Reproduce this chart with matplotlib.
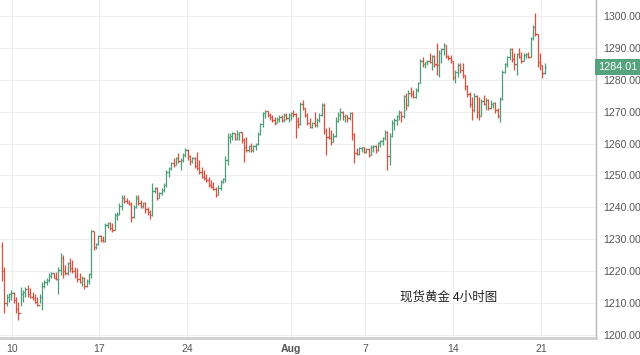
import matplotlib.pyplot as plt
import numpy as np
from matplotlib import transforms

plt.rcParams['font.family'] = ['Liberation Sans', 'Noto Sans CJK SC', 'DejaVu Sans']

# 4h bars (open = previous close)
first_open = 1228.0
highs = [1229, 1221.4, 1213, 1213.2, 1214, 1213.5, 1212, 1210.5, 1215.2, 1214,
         1215, 1215.7, 1214.6, 1213.6, 1213, 1212, 1213, 1216.7, 1217.2, 1217.8,
         1219.3, 1219.9, 1219.3, 1219.9, 1221.4, 1225.6, 1225, 1222, 1223, 1224,
         1223.5, 1221.4, 1220.9, 1219.3, 1218.5, 1218.3, 1217.5, 1219.5, 1233, 1232.5,
         1228.7, 1231.3, 1231.5, 1231, 1235, 1235.5, 1235.5, 1235, 1238.1, 1238.6,
         1241.3, 1243.9, 1243.9, 1242.8, 1242.3, 1241.8, 1240.7, 1243.9, 1243.9, 1242.3,
         1241.8, 1241.8, 1240.2, 1239.2, 1247.5, 1246.5, 1246.5, 1244.9, 1246, 1247.5,
         1251.7, 1252.7, 1254.3, 1255.4, 1255.9, 1256.9, 1255.4, 1256.9, 1258.5, 1258.2,
         1256.4, 1255.9, 1255.9, 1257.4, 1254.8, 1252.7, 1251.7, 1250.6, 1249.6, 1248.6,
         1248, 1246.5, 1247, 1248.6, 1249.1, 1256, 1263.2, 1263.2, 1263.7, 1263.4,
         1264.3, 1263.7, 1263.6, 1261.6, 1262.2, 1259.6, 1260.1, 1259.6, 1260.1, 1263.7,
         1266.4, 1270, 1270.5, 1270.3, 1269.5, 1269, 1268.4, 1268.4, 1269, 1269,
         1269.5, 1269.5, 1269.5, 1270, 1270.5, 1269.5, 1268.4, 1273.1, 1273.7, 1271.3,
         1269.5, 1267.9, 1266.9, 1270, 1267.9, 1269.5, 1272.6, 1272.6, 1264.8, 1265.3,
         1264.3, 1263.2, 1268.4, 1270, 1271, 1270.3, 1269, 1269, 1270, 1269.8,
         1263.2, 1258.5, 1259, 1259, 1259, 1258.5, 1258.5, 1259.6, 1259.6, 1259.5,
         1260.6, 1261.1, 1262.2, 1264.3, 1263.8, 1263.2, 1267.4, 1267.9, 1268.9, 1270.5,
         1270.2, 1275.2, 1275.7, 1276.8, 1277.8, 1276.8, 1277.3, 1279.4, 1286.5, 1287.2,
         1285.7, 1286.2, 1288.3, 1287.8, 1287.8, 1291.5, 1289.3, 1289.9, 1291.4, 1290.8,
         1287.8, 1287.8, 1286, 1283.1, 1285.2, 1285.2, 1285.2, 1281.5, 1278.4, 1276.3,
         1274.7, 1275.8, 1275.2, 1274.7, 1274, 1275.2, 1274.2, 1274, 1273.7, 1273.1,
         1273.1, 1271, 1274.7, 1283, 1285.2, 1287.3, 1289.9, 1289.9, 1288.3, 1288.3,
         1289.9, 1288.8, 1288.3, 1288.3, 1288.8, 1293.5, 1297.2, 1300.8, 1294.5, 1288.3,
         1284.5, 1285.2]
lows = [1217, 1206.8, 1209, 1210.4, 1211, 1210, 1206.8, 1204.7, 1209, 1210.4,
        1212, 1212, 1211.5, 1211, 1210, 1209, 1210, 1207.8, 1214.6, 1215.7,
        1216.7, 1217.8, 1217.8, 1217.2, 1213, 1218.8, 1217.8, 1218.8, 1218.8, 1219.9,
        1219.3, 1217.8, 1216.7, 1216.2, 1215.5, 1214.5, 1215, 1216, 1218, 1226.6,
        1227.1, 1228.2, 1229.3, 1229, 1229.3, 1233.4, 1232.9, 1232.4, 1233, 1236,
        1237.6, 1239.2, 1241.3, 1241.3, 1240.7, 1235.5, 1236.8, 1239.7, 1240.7, 1239.7,
        1239.7, 1238.1, 1237.6, 1236.5, 1237.2, 1244.4, 1242.3, 1242.8, 1243.9, 1244.9,
        1246.5, 1249.6, 1251.7, 1252.7, 1253.2, 1253.8, 1251.7, 1254.3, 1255.9, 1254.8,
        1253.3, 1253.8, 1252.2, 1251.7, 1250.6, 1249.1, 1248.6, 1248, 1246.5, 1246,
        1245.4, 1243.3, 1243.8, 1245.6, 1247.5, 1248, 1253.3, 1260.1, 1261.1, 1261.1,
        1261.1, 1261.1, 1260.1, 1254.3, 1257.5, 1257.5, 1257.5, 1257.5, 1258, 1259.6,
        1262.7, 1265.3, 1267.9, 1268.4, 1267.4, 1266.9, 1265.8, 1266.4, 1266.9, 1266.9,
        1266.9, 1267.4, 1266.9, 1267.4, 1268.4, 1261.6, 1265, 1265.8, 1270.5, 1268.4,
        1265.8, 1264.8, 1264.8, 1265.3, 1265.3, 1266.9, 1268.5, 1263, 1256.4, 1261.5,
        1259.6, 1260.5, 1262, 1266.9, 1267.4, 1267.4, 1266.9, 1266.9, 1267.4, 1261.1,
        1253.8, 1256.4, 1256.5, 1257.5, 1257, 1257, 1255.9, 1256.3, 1257.5, 1257,
        1257.8, 1259, 1259.6, 1261.1, 1251.7, 1253.3, 1262, 1264.3, 1265.8, 1267.4,
        1266.9, 1268, 1270.5, 1271.8, 1274.7, 1274.2, 1274.3, 1276.3, 1278.9, 1284.1,
        1283.6, 1284.6, 1285.2, 1283.1, 1284.1, 1281.5, 1281, 1285.2, 1287.8, 1286.7,
        1286.2, 1285.2, 1280, 1278.9, 1281, 1282, 1280.4, 1276.8, 1274.7, 1271.6,
        1267.4, 1270, 1267.9, 1267.4, 1268.5, 1272, 1270.5, 1270.5, 1270.8, 1271,
        1269.5, 1267.9, 1266.9, 1273.8, 1282, 1284.1, 1286.2, 1285.7, 1283.1, 1281.5,
        1286.7, 1285.2, 1285.8, 1286.7, 1286.7, 1287, 1292.5, 1293.8, 1284.1, 1283.1,
        1280.5, 1281.8]
closes = [1220, 1210, 1212, 1212.8, 1213.3, 1211, 1208, 1207, 1213, 1213.5,
          1214.5, 1213, 1212, 1211.5, 1210.5, 1209.5, 1212, 1215.5, 1216.5, 1217.2,
          1218.5, 1219.5, 1218, 1217.5, 1220.5, 1224, 1220, 1219.5, 1222.5, 1221,
          1220, 1218.5, 1217.5, 1216.5, 1218, 1215.5, 1217, 1219, 1232.5, 1227.5,
          1228.5, 1231, 1229.8, 1229.5, 1234.5, 1235, 1233.5, 1233, 1237.5, 1238,
          1240.5, 1243, 1242, 1241.5, 1241, 1237, 1240, 1243, 1241.5, 1240.5,
          1241.5, 1239.5, 1238.5, 1237.5, 1245, 1246, 1243, 1244.5, 1245.5, 1247,
          1251, 1252.2, 1253.8, 1253.2, 1255.5, 1254.5, 1254.8, 1256.5, 1258, 1256,
          1254.5, 1255.5, 1253, 1252.5, 1251, 1249.5, 1249.2, 1248.5, 1247, 1246.3,
          1245.8, 1244, 1246, 1248, 1248.8, 1255, 1262, 1262.5, 1263.3, 1261.5,
          1263, 1263.5, 1261, 1259, 1258, 1259.2, 1258, 1259.3, 1259.8, 1263,
          1266, 1269.5, 1270.2, 1269, 1268.3, 1267.5, 1266.5, 1267.8, 1268.3, 1267.5,
          1268.8, 1268, 1269, 1269.5, 1269.2, 1267, 1266, 1272.5, 1271, 1269,
          1266.5, 1265.2, 1266.5, 1265.8, 1267.5, 1269, 1272, 1264, 1262, 1261.8,
          1260.5, 1262.5, 1267, 1269, 1270, 1268.5, 1268.8, 1268, 1269.5, 1263,
          1257, 1256.8, 1258.5, 1258.8, 1257.5, 1258.2, 1256.5, 1259, 1259.3, 1258,
          1260.2, 1260.8, 1261.8, 1263.5, 1256, 1262.5, 1266.5, 1267.5, 1268.5, 1270,
          1268.5, 1274.8, 1272, 1276, 1275.5, 1274.5, 1276.8, 1279, 1286, 1285,
          1285.5, 1286, 1285.5, 1287.5, 1285, 1284.5, 1288.5, 1289.5, 1290.8, 1287.5,
          1286.8, 1286, 1281, 1282.5, 1284.5, 1283, 1281.5, 1278, 1275.5, 1272.5,
          1270.5, 1275, 1270, 1268.5, 1273.5, 1272.5, 1273.8, 1271, 1272.5, 1272.8,
          1270.5, 1268.5, 1274, 1282.5, 1284.8, 1287, 1289.5, 1286.5, 1285, 1288,
          1287, 1286, 1287.8, 1288, 1287.2, 1293, 1296.5, 1294.5, 1285.5, 1284.5,
          1282, 1284.01]

date_labels = ['10', '17', '24', 'Aug', '7', '14', '21']
date_pos = [4.3, 41.3, 78.7, 123, 154.5, 191.9, 229.4]
price_ticks = [1200, 1210, 1220, 1230, 1240, 1250, 1260, 1270, 1280, 1290, 1300]
last_price = 1284.01

opens = [first_open] + closes[:-1]
x = np.arange(len(closes))
up = '#4f9c78'
down = '#dc4f3c'
colors = [up if c >= o else down for o, c in zip(opens, closes)]

fig = plt.figure(figsize=(6.4, 3.55), dpi=100)
ax = fig.add_axes([0, 17 / 355, 596 / 640, 338 / 355])

ax.vlines(x, lows, highs, colors=colors, linewidth=0.9)
ax.hlines(opens, x - 0.55, x, colors=colors, linewidth=0.9)
ax.hlines(closes, x, x + 0.55, colors=colors, linewidth=0.9)

ax.set_xlim(-0.85, 252.8)
ax.set_ylim(1199.06, 1305.0)

ax.set_xticks(date_pos)
ax.set_xticklabels(date_labels)
for lab in ax.get_xticklabels():
    if lab.get_text() == 'Aug':
        lab.set_fontweight('bold')
ax.set_yticks(price_ticks)
ax.set_yticklabels(['%.2f' % v for v in price_ticks])
ax.yaxis.tick_right()
ax.tick_params(axis='y', length=0, pad=5, labelsize=7.6, labelcolor='#555555')
ax.tick_params(axis='x', length=0, pad=4, labelsize=7.6, labelcolor='#555555')

ax.grid(True, color='#efefef', linewidth=0.8)
ax.set_axisbelow(True)
for s in ['top', 'left']:
    ax.spines[s].set_visible(False)
ax.spines['right'].set_color('#b8b8b8')
ax.spines['right'].set_linewidth(1)
ax.spines['bottom'].set_color('#cfcfcf')
ax.spines['bottom'].set_linewidth(2)

# last price tag on the right axis
trans = transforms.blended_transform_factory(ax.transAxes, ax.transData)
ax.text(1.003, last_price, '%.2f' % last_price, transform=trans, ha='left', va='center',
        fontsize=7.8, color='white', clip_on=False,
        bbox=dict(boxstyle='square,pad=0.3', fc='#55a37c', ec='none'))

ax.text(0.753, 0.121, '现货黄金 4小时图', transform=ax.transAxes, ha='center', va='center',
        fontsize=9, color='#222222', family=['Noto Sans CJK SC', 'DejaVu Sans'])

fig.savefig('out.png', dpi=100)
